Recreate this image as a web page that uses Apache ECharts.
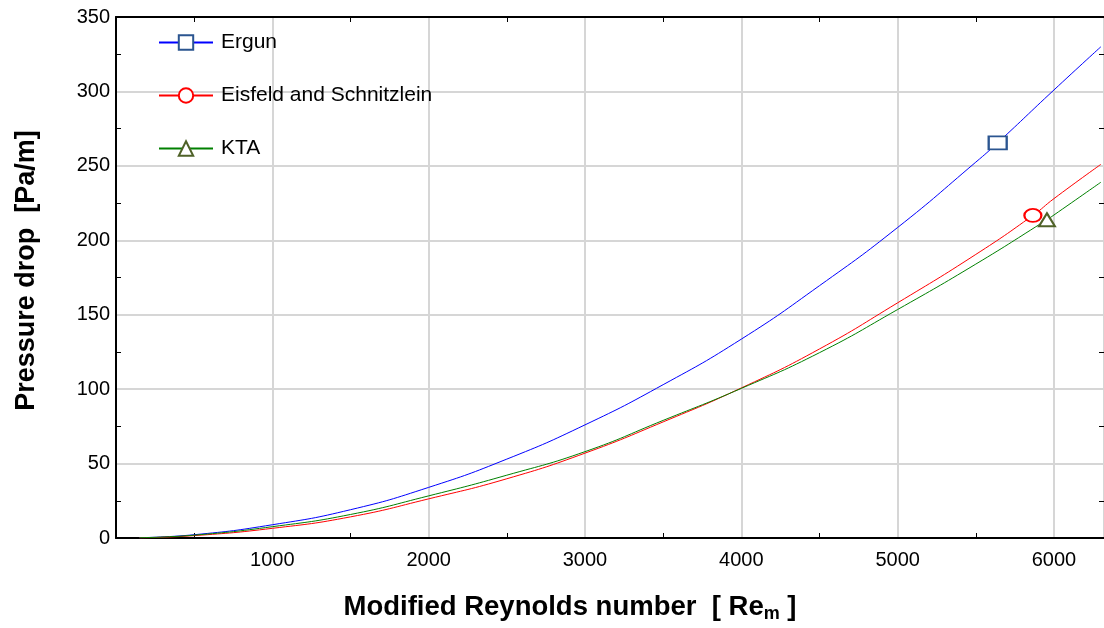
<!DOCTYPE html>
<html>
<head>
<meta charset="utf-8">
<script src="https://cdn.jsdelivr.net/npm/echarts@6/dist/echarts.min.js"></script>
<style>
  html, body { margin: 0; padding: 0; background: #ffffff; }
  #chart { width: 1104px; height: 628px; }
</style>
</head>
<body>
<div id="chart"></div>
<script>
// Modified Reynolds number sample points
const reynolds = [150, 500, 1000, 1500, 2000, 2500, 3000, 3500, 4000, 4500, 5000, 5500, 6000, 6300];

// Pressure drop [Pa/m] for each correlation
const ergun   = [0.2, 2.2, 8.9, 19.0, 34.0, 53.0, 76.0, 103.0, 133.6, 169.5, 208.6, 252.5, 301.0, 330.0];
const eisfeld = [0.1, 1.6, 6.5, 14.2, 26.3, 39.8, 57.0, 78.0, 100.8, 127.0, 158.0, 190.5, 228.0, 251.0];
const kta     = [0.2, 1.9, 7.6, 15.8, 28.3, 42.2, 58.0, 79.0, 100.5, 124.5, 153.5, 184.0, 217.0, 239.0];

// One highlighted marker per curve: [Re, pressure drop]
const ergunMarker   = [5640, 265.5];
const eisfeldMarker = [5865, 216.7];
const ktaMarker     = [5955, 213.8];

// Tick labels and tick positions
const xLabelValues = [1000, 2000, 3000, 4000, 5000, 6000];
const xMinorTicks  = [500, 1500, 2500, 3500, 4500, 5500];
const yMinorTicks  = [25, 75, 125, 175, 225, 275, 325];

const FONT = "'Liberation Sans', Arial, sans-serif";
const X_MIN = 0, X_MAX = 6320, Y_MIN = 0, Y_MAX = 350;

function buildData(curve, marker) {
  const pts = reynolds.map((re, i) => ({ value: [re, curve[i]], symbol: 'none' }));
  pts.push({ value: [marker[0], marker[1]] });
  pts.sort((a, b) => a.value[0] - b.value[0]);
  return pts;
}

function tickAxis(extra) {
  return Object.assign({
    type: 'value',
    axisLine: { show: false, onZero: false },
    axisLabel: { show: false },
    splitLine: { show: false },
    axisTick: { show: true, inside: true, length: 5, lineStyle: { color: '#000', width: 1 } }
  }, extra);
}

const chart = echarts.init(document.getElementById('chart'), null, { renderer: 'canvas' });

chart.setOption({
  animation: false,
  backgroundColor: '#ffffff',
  textStyle: { fontFamily: FONT },
  grid: { left: 116, top: 17, width: 991, height: 523, containLabel: false },
  legend: {
    orient: 'vertical',
    left: 153,
    top: 27,
    itemWidth: 54,
    itemHeight: 18,
    itemGap: 32,
    textStyle: { fontFamily: FONT, fontSize: 21, color: '#000', lineHeight: 20, padding: [0, 0, 0, 3] },
    data: ['Ergun', 'Eisfeld and Schnitzlein', 'KTA']
  },
  xAxis: [
    {
      type: 'value', position: 'bottom', min: X_MIN, max: X_MAX, interval: 1000,
      name: '{a|Modified Reynolds number  [ Re}{s|m}{a| ]}',
      nameLocation: 'middle',
      nameGap: 55,
      nameTextStyle: {
        padding: [0, 80, 0, 0],
        rich: {
          a: { fontFamily: FONT, fontSize: 27.5, fontWeight: 'bold', color: '#000', lineHeight: 30, verticalAlign: 'top' },
          s: { fontFamily: FONT, fontSize: 18, fontWeight: 'bold', color: '#000', lineHeight: 14, verticalAlign: 'bottom' }
        }
      },
      axisLine: { show: true, onZero: false, lineStyle: { color: '#000', width: 2 } },
      axisTick: { show: false },
      axisLabel: {
        fontFamily: FONT, fontSize: 20, color: '#000', margin: 12,
        showMinLabel: false, showMaxLabel: false,
        formatter: v => (xLabelValues.indexOf(v) >= 0 ? String(v) : '')
      },
      splitLine: { show: true, lineStyle: { color: '#d6d6d6', width: 2 } }
    },
    tickAxis({ position: 'bottom', min: X_MIN, max: X_MAX, interval: 500,
      axisTick: { show: true, inside: true, length: 5, customValues: xMinorTicks, lineStyle: { color: '#000', width: 1 } } }),
    tickAxis({ position: 'top', min: X_MIN, max: X_MAX, interval: 500,
      axisLine: { show: true, onZero: false, lineStyle: { color: '#000', width: 2 } },
      axisTick: { show: true, inside: true, length: 5, customValues: xMinorTicks, lineStyle: { color: '#000', width: 1 } } })
  ],
  yAxis: [
    {
      type: 'value', position: 'left', min: Y_MIN, max: Y_MAX, interval: 50,
      name: 'Pressure drop  [Pa/m]',
      nameLocation: 'middle',
      nameGap: 76,
      nameTextStyle: { fontFamily: FONT, fontSize: 27, fontWeight: 'bold', color: '#000', padding: [0, 0, 0, 14] },
      axisLine: { show: true, onZero: false, lineStyle: { color: '#000', width: 2 } },
      axisTick: { show: false },
      axisLabel: { fontFamily: FONT, fontSize: 20, color: '#000', margin: 6 },
      splitLine: { show: true, lineStyle: { color: '#d6d6d6', width: 2 } }
    },
    tickAxis({ position: 'left', min: Y_MIN, max: Y_MAX, interval: 25,
      axisTick: { show: true, inside: true, length: 5, customValues: yMinorTicks, lineStyle: { color: '#000', width: 1 } } }),
    tickAxis({ position: 'right', min: Y_MIN, max: Y_MAX, interval: 25,
      axisTick: { show: true, inside: true, length: 5, customValues: yMinorTicks, lineStyle: { color: '#000', width: 1 } } })
  ],
  series: [
    {
      name: 'Ergun', type: 'line', xAxisIndex: 0, yAxisIndex: 0,
      smooth: 0.5,
      symbol: 'emptyRect', symbolSize: [18, 13], showSymbol: true,
      lineStyle: { color: '#0000ff', width: 1 },
      itemStyle: { color: '#2b5590', borderWidth: 2 },
      emphasis: { disabled: true },
      data: buildData(ergun, ergunMarker)
    },
    {
      name: 'Eisfeld and Schnitzlein', type: 'line', xAxisIndex: 0, yAxisIndex: 0,
      smooth: 0.5,
      symbol: 'emptyCircle', symbolSize: [17, 13], showSymbol: true,
      lineStyle: { color: '#ff0000', width: 1 },
      itemStyle: { color: '#ff0000', borderWidth: 2 },
      emphasis: { disabled: true },
      data: buildData(eisfeld, eisfeldMarker)
    },
    {
      name: 'KTA', type: 'line', xAxisIndex: 0, yAxisIndex: 0,
      smooth: 0.5,
      symbol: 'emptyTriangle', symbolSize: [16, 13], showSymbol: true,
      lineStyle: { color: '#008000', width: 1 },
      itemStyle: { color: '#4f6228', borderWidth: 2 },
      emphasis: { disabled: true },
      data: buildData(kta, ktaMarker)
    }
  ]
});
</script>
</body>
</html>
